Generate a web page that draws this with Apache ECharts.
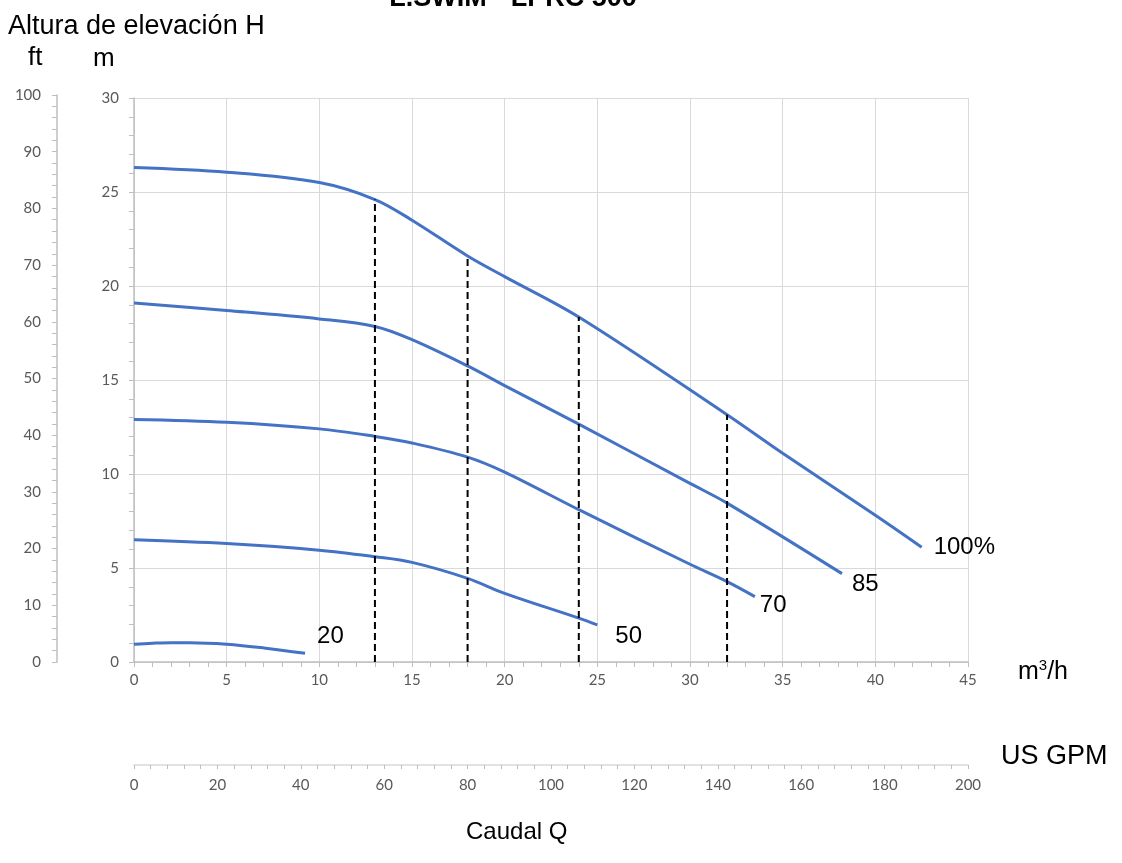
<!DOCTYPE html>
<html><head><meta charset="utf-8">
<script src="https://cdn.jsdelivr.net/npm/echarts@6/dist/echarts.min.js"></script>
<style>html,body{margin:0;padding:0;background:#fff}#c{width:1122px;height:863px}</style>
</head><body><div id="c"></div>
<script>
// Flow (m3/h) and head (m) for each speed curve
const q100 = [0, 5, 10, 13, 15, 18, 20, 24, 32, 35, 40, 42.5];
const h100 = [26.3, 26.05, 25.5, 24.6, 23.5, 21.6, 20.5, 18.35, 13.15, 11.1, 7.8, 6.1];
const q85 = [0, 5, 10, 13, 15, 18, 20, 24, 30, 32, 38.2];
const h85 = [19.1, 18.7, 18.25, 17.85, 17.15, 15.75, 14.7, 12.65, 9.5, 8.45, 4.7];
const q70 = [0, 5, 10, 13, 15, 18, 20, 24, 30, 32, 33.5];
const h70 = [12.9, 12.75, 12.4, 12.0, 11.65, 10.9, 10.1, 8.1, 5.2, 4.28, 3.48];
const q50 = [0, 5, 10, 13, 15, 18, 20, 24, 25];
const h50 = [6.5, 6.3, 5.95, 5.6, 5.3, 4.45, 3.65, 2.33, 1.97];
const q20 = [0, 1, 2, 3, 5, 7, 9.23];
const h20 = [0.95, 1.0, 1.03, 1.03, 0.95, 0.75, 0.46];
const curveLabels = ['100%', '85', '70', '50', '20'];
// Dashed duty-point markers
const dashQ = [13, 18, 24, 32];
const dashTop = [24.6, 21.6, 18.35, 13.15];
// Axis ranges
const mRange = [0, 30, 5];
const ftRange = [0, 100, 10];
const qRange = [0, 45, 5];
const gpmRange = [0, 200, 20];

const BLUE = '#4472C4';
const AX = '#bfbfbf', GRIDC = '#d9d9d9', LAB = '#595959';
const tickFont = 'Lato';
const bigFont = 'Liberation Sans';

function pts(q, h) { return q.map((x, i) => [x, h[i]]); }

const curves = [
  {q: q100, h: h100, off: [4, 0]},
  {q: q85, h: h85, off: [2, 11]},
  {q: q70, h: h70, off: [-3, 9]},
  {q: q50, h: h50, off: [10, 11]},
  {q: q20, h: h20, off: [4, -17]}
];

const series = [];
curves.forEach((c, i) => {
  series.push({
    type: 'line', xAxisIndex: 0, yAxisIndex: 0,
    data: pts(c.q, c.h), showSymbol: false, symbol: 'none', smooth: 0.35,
    lineStyle: {color: BLUE, width: 3}, silent: true,
    endLabel: {show: true, formatter: curveLabels[i], color: '#000', fontSize: 24,
      fontFamily: bigFont, offset: c.off}
  });
});
dashQ.forEach((x, i) => {
  series.push({
    type: 'line', xAxisIndex: 0, yAxisIndex: 0,
    data: [[x, 0], [x, dashTop[i]]], symbol: 'none', silent: true,
    lineStyle: {color: '#000', width: 2, type: [7, 4]}
  });
});

const chart = echarts.init(document.getElementById('c'), null, {renderer: 'canvas'});
chart.setOption({
  animation: false,
  backgroundColor: '#fff',
  textStyle: {fontFamily: tickFont},
  grid: [
    {left: 134, right: 154, top: 98, bottom: 201},
    {left: 57, width: 1, top: 95, bottom: 201},
    {left: 134, right: 154, top: 764, height: 1}
  ],
  xAxis: [
    {gridIndex: 0, type: 'value', min: qRange[0], max: qRange[1], interval: qRange[2],
      axisLine: {lineStyle: {color: AX, width: 1.5}},
      axisTick: {show: true, length: 5, lineStyle: {color: AX}},
      minorTick: {show: true, splitNumber: 5, length: 5, lineStyle: {color: AX}},
      axisLabel: {color: LAB, fontSize: 15, margin: 11},
      splitLine: {show: true, lineStyle: {color: GRIDC, width: 1}}},
    {gridIndex: 1, type: 'value', show: false, min: 0, max: 1},
    {gridIndex: 2, type: 'value', min: gpmRange[0], max: gpmRange[1], interval: gpmRange[2],
      axisLine: {lineStyle: {color: GRIDC, width: 1.5}},
      axisTick: {show: true, length: 4, lineStyle: {color: AX}},
      minorTick: {show: true, splitNumber: 5, length: 4, lineStyle: {color: AX}},
      axisLabel: {color: LAB, fontSize: 15, margin: 13},
      splitLine: {show: false}}
  ],
  yAxis: [
    {gridIndex: 0, type: 'value', min: mRange[0], max: mRange[1], interval: mRange[2],
      axisLine: {show: true, lineStyle: {color: AX, width: 1.5}},
      axisTick: {show: true, length: 5, lineStyle: {color: AX}},
      minorTick: {show: true, splitNumber: 5, length: 5, lineStyle: {color: AX}},
      axisLabel: {color: LAB, fontSize: 15, margin: 15},
      splitLine: {show: true, lineStyle: {color: GRIDC, width: 1}}},
    {gridIndex: 1, type: 'value', min: ftRange[0], max: ftRange[1], interval: ftRange[2],
      axisLine: {show: true, lineStyle: {color: AX, width: 1.5}},
      axisTick: {show: true, length: 5, lineStyle: {color: AX}},
      minorTick: {show: true, splitNumber: 5, length: 5, lineStyle: {color: AX}},
      axisLabel: {color: LAB, fontSize: 15, margin: 16},
      splitLine: {show: false}},
    {gridIndex: 2, type: 'value', show: false, min: 0, max: 1}
  ],
  series: series,
  graphic: [
    {type: 'text', x: 513, y: -1, style: {text: 'L.SWIM - LPRC 500', font: 'bold 27px "Liberation Sans"', fill: '#000', align: 'center', verticalAlign: 'middle'}},
    {type: 'text', x: 8, y: 27, style: {text: 'Altura de elevación H', font: '27px "Liberation Sans"', fill: '#000', align: 'left', verticalAlign: 'middle'}},
    {type: 'text', x: 28, y: 58, style: {text: 'ft', font: '26px "Liberation Sans"', fill: '#000', align: 'left', verticalAlign: 'middle'}},
    {type: 'text', x: 93, y: 59, style: {text: 'm', font: '26px "Liberation Sans"', fill: '#000', align: 'left', verticalAlign: 'middle'}},
    {type: 'text', x: 1018, y: 672, style: {text: '{a|m}{s|3}{a|/h}', rich: {a: {fontSize: 25, fontFamily: bigFont, color: '#000'}, s: {fontSize: 15, fontFamily: bigFont, color: '#000', verticalAlign: 'top', padding: [0, 0, 12, 0]}}, align: 'left', verticalAlign: 'middle'}},
    {type: 'text', x: 1001, y: 757, style: {text: 'US GPM', font: '27px "Liberation Sans"', fill: '#000', align: 'left', verticalAlign: 'middle'}},
    {type: 'text', x: 466, y: 832, style: {text: 'Caudal Q', font: '24px "Liberation Sans"', fill: '#000', align: 'left', verticalAlign: 'middle'}}
  ]
});
</script>
</body></html>
